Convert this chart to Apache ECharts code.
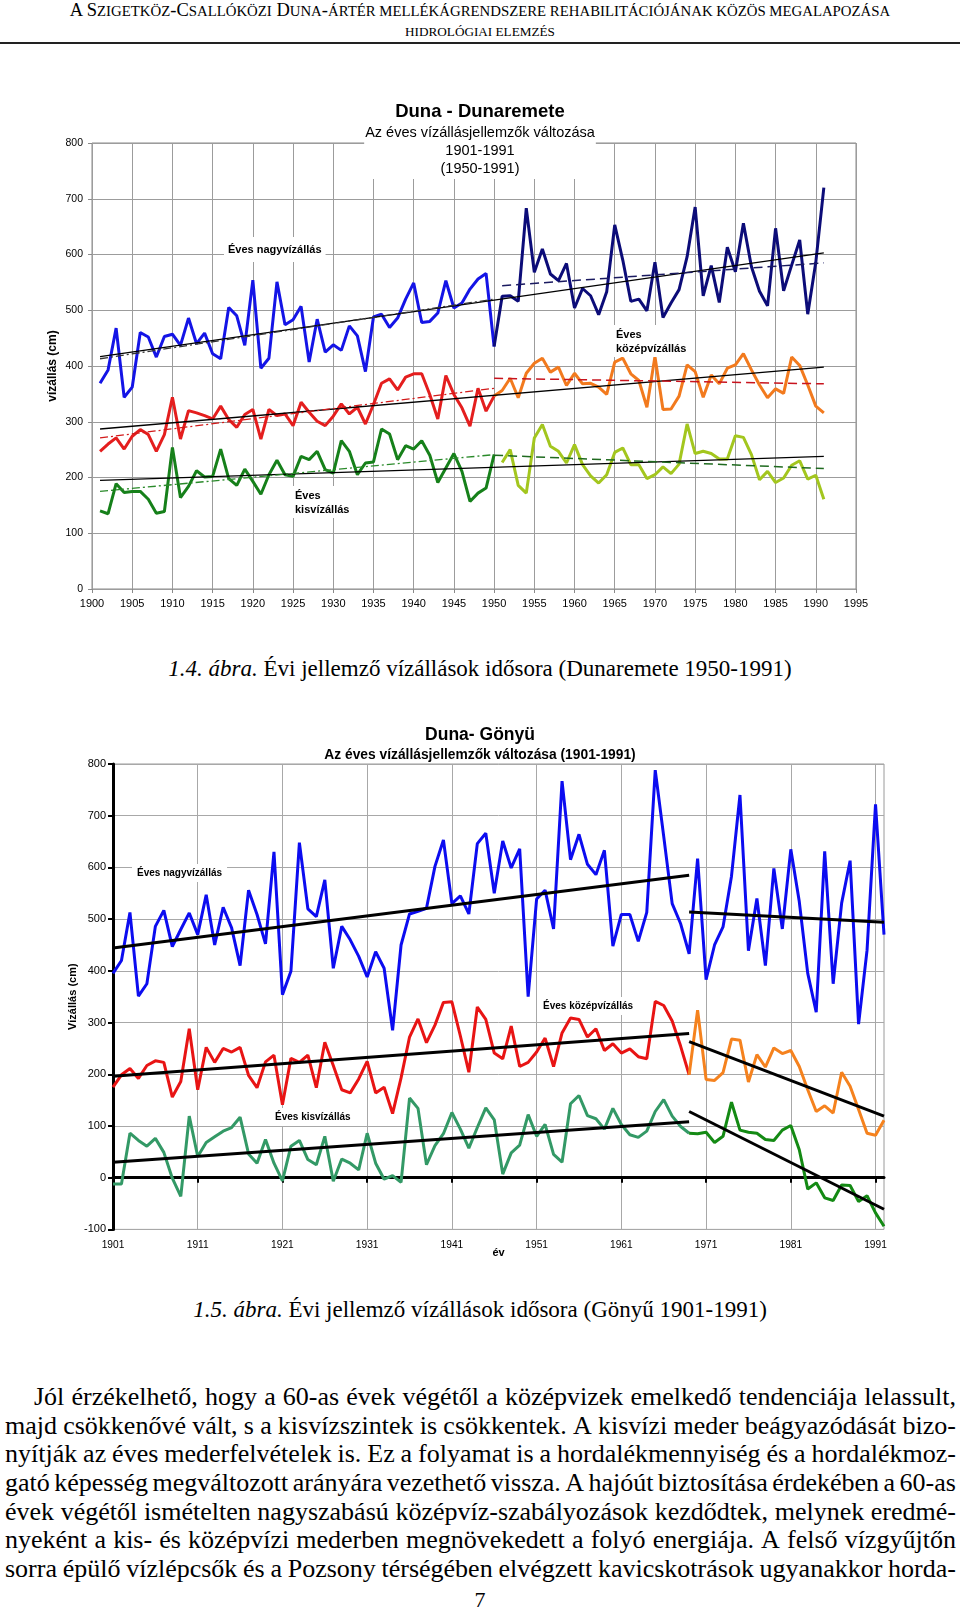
<!DOCTYPE html>
<html><head><meta charset="utf-8">
<script src="https://cdn.jsdelivr.net/npm/echarts@6/dist/echarts.min.js"></script>
<style>
html,body{margin:0;padding:0;background:#fff;}
body{width:960px;height:1609px;position:relative;overflow:hidden;font-family:"Liberation Serif","Times New Roman",serif;color:#000;}
.hdr{position:absolute;left:0;width:960px;text-align:center;line-height:20px;white-space:nowrap;}
.sc{font-size:0.8em;}
#h1{top:0px;font-size:18.5px;}
#h2{top:21px;font-size:16.5px;}
#rule{position:absolute;left:0;top:42px;width:960px;height:2px;background:#222;}
.cap{position:absolute;left:0;width:960px;text-align:center;font-size:23px;line-height:26px;white-space:nowrap;}
#cap1{top:656px;}
#cap2{top:1297px;}
#para{position:absolute;left:5px;top:1383px;width:951px;font-size:26px;}
.ln{height:28.67px;line-height:28.67px;display:flex;justify-content:space-between;white-space:nowrap;}
.ln.first{padding-left:29px;}
#pg{position:absolute;left:0;width:960px;top:1587px;text-align:center;font-size:22px;line-height:26px;}
#c1{position:absolute;left:0;top:60px;width:960px;height:570px;}
#c2{position:absolute;left:0;top:690px;width:960px;height:590px;}
</style>
</head>
<body>
<div class="hdr" id="h1">A S<span class="sc">ZIGETKÖZ</span>-C<span class="sc">SALLÓKÖZI</span> D<span class="sc">UNA</span>-<span class="sc">ÁRTÉR MELLÉKÁGRENDSZERE REHABILITÁCIÓJÁNAK KÖZÖS MEGALAPOZÁSA</span></div>
<div class="hdr" id="h2"><span class="sc">HIDROLÓGIAI ELEMZÉS</span></div>
<div id="rule"></div>
<div id="c1"></div>
<div class="cap" id="cap1"><i>1.4. ábra.</i> Évi jellemző vízállások idősora (Dunaremete 1950-1991)</div>
<div id="c2"></div>
<div class="cap" id="cap2"><i>1.5. ábra.</i> Évi jellemző vízállások idősora (Gönyű 1901-1991)</div>
<div id="para"></div>
<div id="pg">7</div>
<script>
// ---------- helpers ----------
function range(a, b) { const r = []; for (let y = a; y <= b; y++) r.push(y); return r; }
function pairs(years, vals) { return vals.map((v, i) => [years[i], v]); }

// ---------- Chart 1: Duna - Dunaremete ----------
const dmYearsA = range(1901, 1950);
const dmYearsB = range(1950, 1991);
const dmYearsLow = range(1951, 1991);

const dmHighA = [369,393,468,344,362,460,452,416,453,457,
                 437,486,440,459,422,413,505,490,437,554,
                 396,414,551,474,483,507,407,484,425,438,
                 428,472,454,390,488,493,469,486,520,549,
                 478,480,495,553,504,513,538,556,566,435];
const dmHighB = [435,525,526,516,683,568,610,565,553,584,
                 504,539,526,492,533,653,590,516,520,499,
                 586,487,513,537,596,685,526,580,514,613,
                 569,656,578,534,508,647,535,581,626,493,
                 586,720];
const dmMidA = [247,260,271,251,274,286,277,247,277,344,
                269,320,316,311,305,328,304,290,313,322,
                269,322,311,314,293,335,317,301,293,310,
                332,314,326,296,331,369,377,357,380,386,
                386,349,305,383,349,325,292,360,319,346];
const dmMidB = [346,356,378,343,387,405,414,389,398,365,
                387,368,369,362,349,407,414,386,374,326,
                417,322,323,346,402,390,344,384,368,396,
                402,422,393,366,343,359,351,416,401,366,
                328,316];
const dmLowA = [140,135,189,173,175,175,161,136,139,254,
                164,184,212,201,202,251,198,186,215,193,
                170,205,231,205,202,238,232,247,214,208,
                266,247,205,226,228,287,278,232,257,251,
                266,240,191,217,243,211,157,172,181,241];
const dmLowB = [227,250,186,172,271,295,256,247,226,259,
                223,203,190,205,245,253,223,223,198,205,
                219,207,224,296,243,247,243,233,233,275,
                272,241,196,211,191,199,222,230,197,204,
                161];
// trend lines (end points)
const dmTrendHighAll = [[1901, 417], [1991, 603]];
const dmTrendHighA   = [[1901, 413], [1950, 520]];
const dmTrendHighB   = [[1951, 544], [1991, 585]];
const dmTrendMidAll  = [[1901, 287], [1991, 398]];
const dmTrendMidA    = [[1901, 271], [1950, 360]];
const dmTrendMidB    = [[1950, 378], [1991, 368]];
const dmTrendLowAll  = [[1901, 195], [1991, 238]];
const dmTrendLowA    = [[1901, 175], [1950, 241]];
const dmTrendLowB    = [[1950, 240], [1991, 216]];

// ---------- Chart 2: Duna - Gönyü ----------
const gyYears = range(1901, 1992).map(String);
const gyYearsA = range(1901, 1969).map(String);
const gyYearsB = range(1969, 1992).map(String);

const gyHigh = [395,420,513,351,375,486,517,447,480,512,
                470,547,450,523,483,410,556,509,452,630,
                354,399,648,520,505,576,405,486,460,428,
                388,437,405,285,450,510,515,521,602,653,
                530,545,510,646,666,550,651,599,636,350,
                539,556,481,767,615,664,606,586,633,448,
                509,509,457,513,788,660,530,491,433,617,
                383,450,485,583,740,439,540,410,598,481,
                635,534,395,320,631,375,531,613,297,440,
                722,470];
const gyMidA = [175,199,211,192,217,226,223,156,186,288,
                170,252,223,250,243,252,198,174,224,237,
                141,231,223,237,174,262,217,170,164,191,
                225,164,175,124,193,272,307,261,295,339,
                340,274,204,330,306,241,230,293,215,223,
                243,270,215,280,309,306,272,288,246,259,
                241,249,234,230,341,333,303,254,199];
const gyMidB = [199,324,190,188,203,268,266,185,238,214,
                251,240,246,215,170,128,139,125,204,177,
                132,86,82,111];
const gyLowA = [-12,-12,86,72,61,76,49,-1,-36,119,
                41,68,79,90,97,117,46,28,74,28,
                -6,61,72,35,25,80,-7,36,28,15,
                86,28,-3,4,-9,154,134,25,62,85,
                126,94,57,97,135,112,7,48,63,122,
                80,103,45,30,143,159,120,114,94,134,
                103,83,78,90,128,151,119,99,86];
const gyLowB = [86,85,88,68,80,146,92,88,86,74,
                72,92,101,54,-22,-10,-39,-44,-14,-15,
                -46,-35,-68,-94];
const gyTrendHighA = [['1901', 444], ['1969', 585]];
const gyTrendHighB = [['1969', 514], ['1992', 494]];
const gyTrendMidA  = [['1901', 196], ['1969', 279]];
const gyTrendMidB  = [['1969', 263], ['1992', 119]];
const gyTrendLowA  = [['1901', 30],  ['1969', 108]];
const gyTrendLowB  = [['1969', 128], ['1992', -61]];

// ---------- paragraph text ----------
const paraLines = [
 "Jól érzékelhető, hogy a 60-as évek végétől a középvizek emelkedő tendenciája lelassult,",
 "majd csökkenővé vált, s a kisvízszintek is csökkentek. A kisvízi meder beágyazódását bizo-",
 "nyítják az éves mederfelvételek is. Ez a folyamat is a hordalékmennyiség és a hordalékmoz-",
 "gató képesség megváltozott arányára vezethető vissza. A hajóút biztosítása érdekében a 60-as",
 "évek végétől ismételten nagyszabású középvíz-szabályozások kezdődtek, melynek eredmé-",
 "nyeként a kis- és középvízi mederben megnövekedett a folyó energiája. A felső vízgyűjtőn",
 "sorra épülő vízlépcsők és a Pozsony térségében elvégzett kavicskotrások ugyanakkor horda-"
];
const para = document.getElementById('para');
paraLines.forEach((t, i) => {
  const d = document.createElement('div');
  d.className = 'ln' + (i === 0 ? ' first' : '');
  t.split(' ').forEach(w => { const s = document.createElement('span'); s.textContent = w; d.appendChild(s); });
  para.appendChild(d);
});

const SANS = '"Liberation Sans", Arial, sans-serif';

function line(name, data, color, width, z, type) {
  return { name: name, type: 'line', data: data, symbol: 'none', showSymbol: false,
    lineStyle: { color: color, width: width, type: type || 'solid' }, itemStyle: { color: color },
    z: z || 2, silent: true, animation: false };
}
const DASHDOT = [8, 3, 2, 3];
const DASH = [9, 5];

// ---------- chart 1 ----------
const c1 = echarts.init(document.getElementById('c1'), null, { renderer: 'canvas' });
c1.setOption({
  animation: false,
  title: {
    text: 'Duna - Dunaremete',
    subtext: 'Az éves vízállásjellemzők változása\n1901-1991\n(1950-1991)',
    left: 'center', top: 41, padding: [0, 1, 1, 1], itemGap: 1,
    backgroundColor: '#fff', z: 8,
    textStyle: { fontFamily: SANS, fontSize: 18.5, fontWeight: 'bold', color: '#000', lineHeight: 22 },
    subtextStyle: { fontFamily: SANS, fontSize: 14.5, color: '#000', lineHeight: 18 }
  },
  grid: { left: 92, top: 83, width: 764, height: 446, show: true, borderColor: '#8a8a8a', borderWidth: 1 },
  xAxis: {
    type: 'value', min: 1900, max: 1995, interval: 5,
    axisLine: { show: false },
    axisTick: { show: true, length: 4, lineStyle: { color: '#8a8a8a' } },
    axisLabel: { fontFamily: SANS, fontSize: 11, color: '#000', margin: 9, formatter: v => String(v) },
    splitLine: { show: true, lineStyle: { color: '#9c9c9c', width: 1 } }
  },
  yAxis: {
    type: 'value', min: 0, max: 800, interval: 100,
    name: 'vízállás (cm)', nameLocation: 'middle', nameGap: 33, nameMoveOverlap: false,
    nameTextStyle: { fontFamily: SANS, fontSize: 12, fontWeight: 'bold', color: '#000' },
    axisLine: { show: false },
    axisTick: { show: true, length: 4, lineStyle: { color: '#8a8a8a' } },
    axisLabel: { fontFamily: SANS, fontSize: 10.5, color: '#000', margin: 9 },
    splitLine: { show: true, lineStyle: { color: '#9c9c9c', width: 1 } }
  },
  series: [
    line('Éves nagyvízállás 1901-1950', pairs(dmYearsA, dmHighA), '#1414e6', 3),
    line('Éves nagyvízállás 1950-1991', pairs(dmYearsB, dmHighB), '#0c0c78', 3),
    line('Éves középvízállás 1901-1950', pairs(dmYearsA, dmMidA), '#e41e1e', 3),
    line('Éves középvízállás 1950-1991', pairs(dmYearsB, dmMidB), '#f27a1e', 3),
    line('Éves kisvízállás 1901-1950', pairs(dmYearsA, dmLowA), '#16801a', 3),
    line('Éves kisvízállás 1951-1991', pairs(dmYearsLow, dmLowB), '#a3c61e', 3),
    line('trend nagy', dmTrendHighAll, '#000', 1.3, 4),
    line('trend nagy A', dmTrendHighA, '#333', 1.3, 4, DASHDOT),
    line('trend nagy B', dmTrendHighB, '#1a1a60', 1.5, 4, DASH),
    line('trend közép', dmTrendMidAll, '#000', 1.3, 4),
    line('trend közép A', dmTrendMidA, '#d21a1a', 1.3, 4, DASHDOT),
    line('trend közép B', dmTrendMidB, '#c8141e', 1.5, 4, DASH),
    line('trend kis', dmTrendLowAll, '#000', 1.3, 4),
    line('trend kis A', dmTrendLowA, '#2a8a2a', 1.3, 4, DASHDOT),
    line('trend kis B', dmTrendLowB, '#1f6a1f', 1.5, 4, DASH)
  ],
  graphic: [
    { type: 'text', left: 224, top: 177, z: 20,
      style: { text: 'Éves nagyvízállás', font: 'bold 11px ' + SANS, fill: '#000', backgroundColor: '#fff', padding: [7, 4] } },
    { type: 'text', left: 613, top: 265, z: 20,
      style: { text: 'Éves\nközépvízállás', font: 'bold 11px ' + SANS, fill: '#000', lineHeight: 14, backgroundColor: '#fff', padding: [3, 3, 1, 3] } },
    { type: 'text', left: 292, top: 426, z: 20,
      style: { text: 'Éves\nkisvízállás', font: 'bold 11px ' + SANS, fill: '#000', lineHeight: 14, backgroundColor: '#fff', padding: [3, 3, 1, 3] } }
  ]
});

// ---------- chart 2 ----------
const c2 = echarts.init(document.getElementById('c2'), null, { renderer: 'canvas' });
c2.setOption({
  animation: false,
  title: {
    text: 'Duna- Gönyü',
    subtext: 'Az éves vízállásjellemzők változása (1901-1991)',
    left: 'center', top: 35, padding: 0, itemGap: 0,
    textStyle: { fontFamily: SANS, fontSize: 17.5, fontWeight: 'bold', color: '#000', lineHeight: 20 },
    subtextStyle: { fontFamily: SANS, fontSize: 13.8, fontWeight: 'bold', color: '#000', lineHeight: 20 }
  },
  grid: { left: 113, top: 74, width: 771, height: 465.4, show: true, borderColor: '#9a9a9a', borderWidth: 1 },
  xAxis: [
    { type: 'category', data: gyYears, boundaryGap: false,
      name: 'év', nameLocation: 'middle', nameGap: 18, nameMoveOverlap: false,
      nameTextStyle: { fontFamily: SANS, fontSize: 11, fontWeight: 'bold', color: '#000' },
      axisLine: { show: false, onZero: false },
      axisTick: { show: false },
      axisLabel: { interval: 9, fontFamily: SANS, fontSize: 10.2, color: '#000', margin: 11 },
      splitLine: { show: true, interval: 9, lineStyle: { color: '#a8a8a8', width: 1 } } },
    { type: 'category', data: gyYears, boundaryGap: false, position: 'bottom',
      axisLine: { show: true, onZero: true, lineStyle: { color: '#000', width: 3 } },
      axisTick: { show: true, interval: 9, length: 5, lineStyle: { color: '#000', width: 2 } },
      axisLabel: { show: false },
      splitLine: { show: false } }
  ],
  yAxis: {
    type: 'value', min: -100, max: 800, interval: 100,
    name: 'Vízállás (cm)', nameLocation: 'middle', nameGap: 35, nameMoveOverlap: false,
    nameTextStyle: { fontFamily: SANS, fontSize: 11, fontWeight: 'bold', color: '#000' },
    axisLine: { show: true, onZero: false, lineStyle: { color: '#000', width: 3 } },
    axisTick: { show: true, length: 5, lineStyle: { color: '#000', width: 2 } },
    axisLabel: { fontFamily: SANS, fontSize: 11, color: '#000', margin: 7 },
    splitLine: { show: true, lineStyle: { color: '#a8a8a8', width: 1 } }
  },
  series: [
    line('Éves nagyvízállás', pairs(gyYears, gyHigh), '#0c0cf0', 3),
    line('Éves középvízállás 1901-1969', pairs(gyYearsA, gyMidA), '#e81414', 3),
    line('Éves középvízállás 1969-1992', pairs(gyYearsB, gyMidB), '#f5821e', 3),
    line('Éves kisvízállás 1901-1969', pairs(gyYearsA, gyLowA), '#339966', 3),
    line('Éves kisvízállás 1969-1992', pairs(gyYearsB, gyLowB), '#148a14', 3),
    line('trend nagy A', gyTrendHighA, '#000', 3, 4),
    line('trend nagy B', gyTrendHighB, '#000', 3, 4),
    line('trend közép A', gyTrendMidA, '#000', 3, 4),
    line('trend közép B', gyTrendMidB, '#000', 3, 4),
    line('trend kis A', gyTrendLowA, '#000', 3, 4),
    line('trend kis B', gyTrendLowB, '#000', 3, 4)
  ],
  graphic: [
    { type: 'text', left: 132, top: 174, z: 20,
      style: { text: 'Éves nagyvízállás', font: 'bold 10px ' + SANS, fill: '#000', backgroundColor: '#fff', padding: [4, 5] } },
    { type: 'text', left: 540, top: 307, z: 20,
      style: { text: 'Éves középvízállás', font: 'bold 10px ' + SANS, fill: '#000', backgroundColor: '#fff', padding: [4, 3] } },
    { type: 'text', left: 270, top: 418, z: 20,
      style: { text: 'Éves kisvízállás', font: 'bold 10px ' + SANS, fill: '#000', backgroundColor: '#fff', padding: [4, 5] } }
  ]
});
</script>
</body></html>
